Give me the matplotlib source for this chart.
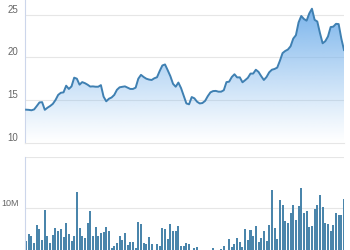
import numpy as np
import matplotlib
matplotlib.use("Agg")
import matplotlib.pyplot as plt
from matplotlib.colors import to_rgb

# daily closing price (about 6 months of trading days)
price = [13.87, 13.85, 13.80, 13.90, 14.30, 14.72, 14.75, 13.85, 14.10, 14.30,
         14.55, 15.00, 15.60, 15.85, 15.90, 16.68, 16.30, 16.60, 17.62, 17.50,
         16.80, 17.10, 16.98, 16.80, 16.58, 16.60, 16.56, 16.56, 16.75, 15.40,
         14.85, 15.15, 15.30, 15.60, 16.20, 16.49, 16.55, 16.60, 16.45, 16.30,
         16.30, 16.45, 17.50, 17.95, 17.70, 17.50, 17.40, 17.35, 17.55, 17.67,
         18.40, 19.05, 19.17, 18.50, 17.80, 16.90, 16.56, 17.05, 16.40, 15.50,
         14.60, 14.50, 15.35, 15.20, 14.80, 14.60, 14.65, 14.90, 15.45, 15.90,
         16.05, 16.07, 15.98, 15.98, 16.15, 17.10, 17.15, 17.70, 18.02, 17.65,
         17.66, 17.08, 17.33, 17.60, 18.10, 18.10, 18.55, 18.30, 17.80, 17.35,
         17.70, 18.25, 18.55, 18.64, 18.80, 19.60, 20.50, 20.75, 20.92, 21.30,
         22.20, 22.60, 24.10, 24.85, 24.50, 24.30, 25.15, 25.70, 24.40, 24.20,
         22.85, 21.65, 21.90, 22.45, 23.55, 23.60, 23.93, 23.90, 22.20, 20.86]

# daily volume in millions
volume = [3.5, 4.8, 4.5, 3.1, 6.7, 5.9, 3.7, 9.6, 4.5, 3.1,
          4.7, 6.1, 5.4, 5.9, 4.2, 7.1, 4.9, 3.4, 4.4, 13.2,
          6.1, 4.4, 4.0, 7.1, 9.4, 4.5, 6.2, 4.4, 5.0, 5.2,
          6.2, 5.4, 2.1, 2.6, 3.1, 4.5, 3.6, 5.0, 2.7, 3.3,
          3.3, 2.1, 7.2, 6.9, 3.1, 2.9, 4.2, 2.9, 1.3, 2.9,
          2.5, 6.1, 5.9, 3.9, 6.9, 5.4, 5.4, 6.4, 2.5, 2.6,
          3.1, 2.9, 1.4, 2.2, 2.4, 1.2, 1.0, 1.3, 1.1, 1.4,
          2.2, 1.3, 1.2, 2.0, 2.5, 1.4, 3.9, 2.3, 2.9, 4.0,
          3.3, 2.3, 5.8, 3.7, 5.7, 4.4, 6.5, 3.2, 4.1, 5.5,
          3.5, 6.6, 13.5, 6.0, 3.9, 11.6, 10.5, 7.5, 7.0, 9.1,
          10.5, 7.6, 10.3, 14.0, 9.1, 9.5, 6.2, 6.5, 9.9, 10.5,
          12.5, 10.1, 7.0, 6.8, 5.5, 6.7, 9.0, 8.6, 8.6, 11.7]

price_ticks = [10, 15, 20, 25]
volume_ticks = [0, 10, 20]
volume_labels = ["", "10M", ""]

line_color = "#3f80b2"
fill_color = "#7cb5ec"
bar_color = "#4a85ab"
grid_color = "#e6e6e6"
axis_color = "#ccd6eb"
label_color = "#666666"

plt.rcParams["font.family"] = ["Liberation Sans", "DejaVu Sans"]

W, H = 350, 250
fig = plt.figure(figsize=(W / 100, H / 100), dpi=100)

left = 24.5 / W
width = (344 - 24.5) / W
lab_off = -6.0 / (344 - 24.5)   # labels end ~6px left of the axis line

# price panel
ax1 = fig.add_axes([left, (H - 142.7) / H, width, 142.7 / H])
x = np.arange(len(price))
ytop = 25 + 14.7 / 8.533
ax1.set_xlim(-0.6, len(price) - 1)
ax1.set_ylim(10, ytop)

poly = ax1.fill_between(x, price, 10, color="none", lw=0)
grad = np.zeros((100, 1, 4))
grad[:, 0, :3] = to_rgb(fill_color)
grad[:, 0, 3] = np.linspace(1.0, 0.0, 100) ** 1.1
img = ax1.imshow(grad, aspect="auto", extent=[-0.6, len(price) - 1, 10, 25.7],
                 origin="upper", zorder=1)
img.set_clip_path(poly.get_paths()[0], transform=ax1.transData)
ax1.plot(x, price, color=line_color, lw=1.4, zorder=3, solid_joinstyle="round")

for t in price_ticks[1:]:
    ax1.axhline(t, color=grid_color, lw=0.8, zorder=0)
for t in price_ticks:
    ax1.text(lab_off, t, str(t), transform=ax1.get_yaxis_transform(),
             ha="right", va="bottom", fontsize=7, color=label_color)

# volume panel (zero line sits just below the image)
ax2 = fig.add_axes([left, (H - 258.7) / H, width, (258.7 - 157.3) / H])
ax2.set_xlim(-0.6, len(price) - 1)
ax2.set_ylim(0, 20)
ax2.bar(x, volume, width=0.75, color=bar_color, edgecolor="none", zorder=2)
for t in volume_ticks[1:]:
    ax2.axhline(t, color=grid_color, lw=0.8, zorder=0)
for t, lab in zip(volume_ticks, volume_labels):
    if lab:
        ax2.text(lab_off, t, lab, transform=ax2.get_yaxis_transform(),
                 ha="right", va="bottom", fontsize=6.5, color=label_color)

for ax in [ax1, ax2]:
    ax.set_xticks([])
    ax.set_yticks([])
    for s in ["top", "right"]:
        ax.spines[s].set_visible(False)
    ax.spines["left"].set_color(axis_color)
    ax.spines["left"].set_linewidth(0.8)
ax1.spines["bottom"].set_color(grid_color)
ax1.spines["bottom"].set_linewidth(0.8)
ax2.spines["bottom"].set_visible(False)

fig.savefig("out.png", dpi=100)
